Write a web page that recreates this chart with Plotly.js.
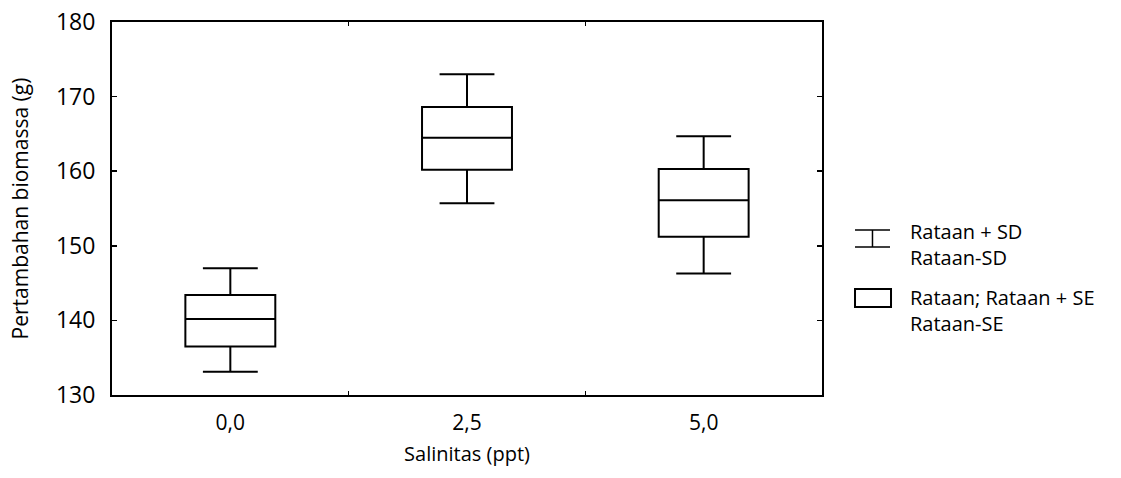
<!DOCTYPE html>
<html>
<head>
<meta charset="utf-8">
<script src="https://cdn.plot.ly/plotly-3.0.1.min.js"></script>
<style>
html,body{margin:0;padding:0;background:#fff;}
#chart{width:1121px;height:478px;}
</style>
</head>
<body>
<div id="chart"></div>
<script>
// Data
var categories = ["0,0", "2,5", "5,0"];
var meanMinusSD = [133.1, 155.7, 146.3];
var meanMinusSE = [136.5, 160.2, 151.2];
var meanValues  = [140.2, 164.5, 156.1];
var meanPlusSE  = [143.4, 168.6, 160.3];
var meanPlusSD  = [147.0, 173.0, 164.7];

var yTicks = [130, 140, 150, 160, 170, 180];
var legendLabels = ["Rataan + SD<br>Rataan-SD", "Rataan; Rataan + SE<br>Rataan-SE"];

var FONT = "Open Sans, Liberation Sans, sans-serif";

var trace = {
  type: "box",
  x: categories,
  q1: meanMinusSE,
  median: meanValues,
  q3: meanPlusSE,
  lowerfence: meanMinusSD,
  upperfence: meanPlusSD,
  fillcolor: "#ffffff",
  line: {color: "#000000", width: 2},
  whiskerwidth: 0.61,
  width: 0.38,
  boxpoints: false,
  hoverinfo: "skip",
  showlegend: false
};

// legend drawn manually (paper coordinates)
var shapes = [
  {type: "line", xref: "paper", yref: "paper", x0: 1.0465, x1: 1.0958, y0: 0.4424, y1: 0.4424, line: {color: "#000", width: 1.5}},
  {type: "line", xref: "paper", yref: "paper", x0: 1.0465, x1: 1.0958, y0: 0.3968, y1: 0.3968, line: {color: "#000", width: 1.5}},
  {type: "line", xref: "paper", yref: "paper", x0: 1.0711, x1: 1.0711, y0: 0.3968, y1: 0.4424, line: {color: "#000", width: 1.5}},
  {type: "rect", xref: "paper", yref: "paper", x0: 1.0465, x1: 1.0972, y0: 0.2359, y1: 0.2842, line: {color: "#000", width: 2}, fillcolor: "#fff"}
];

var legY = [0.4035, 0.2265];
var annotations = legendLabels.map(function (t, i) {
  return {
    text: t, xref: "paper", yref: "paper", x: 1.1211, y: legY[i],
    xanchor: "left", yanchor: "middle", align: "left", showarrow: false,
    font: {family: FONT, size: 20, color: "#000"}
  };
});

var layout = {
  width: 1121,
  height: 478,
  margin: {l: 112, r: 299, t: 22, b: 83},
  paper_bgcolor: "#fff",
  plot_bgcolor: "#fff",
  font: {family: FONT, color: "#000"},
  xaxis: {
    type: "category",
    categoryarray: categories,
    range: [-0.5, 2.5],
    tickson: "boundaries",
    ticks: "inside",
    ticklen: 4,
    tickwidth: 1.5,
    tickcolor: "#000",
    showline: true,
    linewidth: 2,
    linecolor: "#000",
    mirror: "ticks",
    showgrid: false,
    zeroline: false,
    tickfont: {family: FONT, size: 21, color: "#000"},
    ticklabelstandoff: 8,
    title: {text: "Salinitas (ppt)", font: {family: FONT, size: 20, color: "#000"}, standoff: 12}
  },
  yaxis: {
    range: [130, 180],
    tickvals: yTicks,
    ticktext: yTicks.map(String),
    ticks: "inside",
    ticklen: 5,
    tickwidth: 1.5,
    tickcolor: "#000",
    showline: true,
    linewidth: 2,
    linecolor: "#000",
    mirror: "ticks",
    showgrid: false,
    zeroline: false,
    tickfont: {family: FONT, size: 23, color: "#000"},
    ticklabelstandoff: 10,
    title: {text: "Pertambahan biomassa (g)", font: {family: FONT, size: 21, color: "#000"}, standoff: 22}
  },
  shapes: shapes,
  annotations: annotations,
  showlegend: false
};

Plotly.newPlot("chart", [trace], layout, {staticPlot: true, displayModeBar: false});
</script>
</body>
</html>
